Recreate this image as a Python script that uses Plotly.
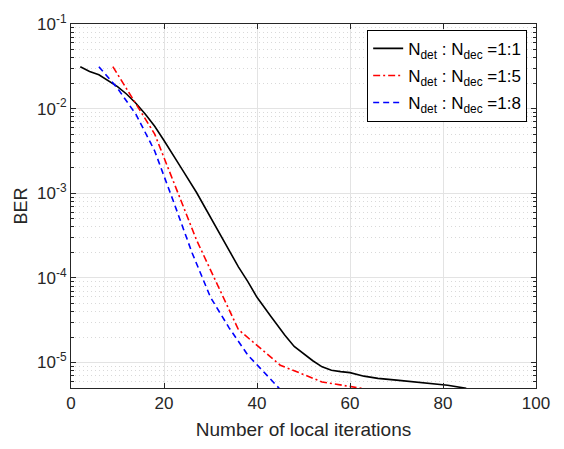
import plotly.graph_objects as go

# ---- data ----
x_11 = [2, 4, 6, 8, 10, 12, 14, 16, 18, 20, 22, 24, 27, 30, 33, 36, 38, 40, 43, 46,
        48, 50, 52, 54, 56, 58, 60, 63, 66, 70, 74, 78, 81, 85]
ber_11 = [3.13e-2, 2.75e-2, 2.51e-2, 2.16e-2, 1.82e-2, 1.48e-2, 1.15e-2, 8.6e-3, 6.2e-3,
          4.2e-3, 2.85e-3, 1.88e-3, 1.02e-3, 5.2e-4, 2.6e-4, 1.35e-4, 9.1e-5, 5.9e-5,
          3.5e-5, 2.1e-5, 1.55e-5, 1.26e-5, 1.05e-5, 8.9e-6, 8.1e-6, 7.8e-6, 7.6e-6,
          6.9e-6, 6.5e-6, 6.2e-6, 5.9e-6, 5.7e-6, 5.4e-6, 4.95e-6]

x_15 = [9, 18, 27, 36, 45, 54, 63]
ber_15 = [3.13e-2, 5.0e-3, 2.8e-4, 2.45e-5, 9.3e-6, 5.9e-6, 4.9e-6]

x_18 = [6, 10, 14, 18, 22, 26, 30, 34, 38, 42, 45]
ber_18 = [3.13e-2, 1.74e-2, 8.5e-3, 3.16e-3, 8.1e-4, 2.0e-4, 5.9e-5, 2.57e-5, 1.23e-5,
          7.1e-6, 4.8e-6]

names = ["N<sub>det</sub> : N<sub>dec</sub> =1:1",
         "N<sub>det</sub> : N<sub>dec</sub> =1:5",
         "N<sub>det</sub> : N<sub>dec</sub> =1:8"]

x_ticks = [0, 20, 40, 60, 80, 100]
y_ticks = [1e-5, 1e-4, 1e-3, 1e-2, 1e-1]
y_ticktext = ["10<sup>-5</sup>", "10<sup>-4</sup>", "10<sup>-3</sup>",
              "10<sup>-2</sup>", "10<sup>-1</sup>"]
y_minor = [m * 10.0 ** e for e in range(-6, -1) for m in range(2, 10)]

FONT = "Liberation Sans, Arial, Helvetica, sans-serif"
AX = "#262626"

fig = go.Figure()
fig.add_trace(go.Scatter(x=x_11, y=ber_11, mode="lines", name=names[0], legendgroup="a",
                         line=dict(color="#000000", width=1.6)))
fig.add_trace(go.Scatter(x=x_15, y=ber_15, mode="lines", name=names[1], legendgroup="b",
                         line=dict(color="#ff0000", width=1.6, dash="7px,3px,2px,3px")))
fig.add_trace(go.Scatter(x=x_18, y=ber_18, mode="lines", name=names[2], legendgroup="c",
                         line=dict(color="#0000ff", width=1.6, dash="6px,4px")))

fig.update_layout(
    width=564, height=449,
    margin=dict(l=71, r=28, t=18, b=56),
    paper_bgcolor="white", plot_bgcolor="white",
    font=dict(family=FONT, size=17, color=AX),
    showlegend=True,
    legend=dict(x=0.981, y=0.984, xanchor="right", yanchor="top",
                bgcolor="white", bordercolor="#000000", borderwidth=1,
                font=dict(size=17, color="#000000"),
                tracegroupgap=2, itemwidth=30),
)
fig.update_xaxes(
    range=[0, 100], tickvals=x_ticks, ticks="inside", ticklen=5, tickcolor=AX,
    showline=True, linecolor=AX, linewidth=1, mirror="allticks",
    showgrid=True, gridcolor="#e3e3e3", gridwidth=1, zeroline=False,
    tickfont=dict(size=17, color=AX),
    title=dict(text="Number of local iterations", font=dict(size=19, color=AX), standoff=10),
)
fig.update_yaxes(
    type="log", range=[-5.30103, -1], tickvals=y_ticks, ticktext=y_ticktext,
    ticks="inside", ticklen=5, tickcolor=AX,
    showline=True, linecolor=AX, linewidth=1, mirror="allticks",
    showgrid=True, gridcolor="#e3e3e3", gridwidth=1, zeroline=False,
    tickfont=dict(size=17, color=AX),
    minor=dict(tickvals=y_minor, ticks="inside", ticklen=3, tickcolor=AX,
               showgrid=True, gridcolor="#d9d9d9", griddash="1px,3px", gridwidth=1),
    title=dict(text="BER", font=dict(size=18, color=AX), standoff=4),
)

fig.write_html("out.html")
